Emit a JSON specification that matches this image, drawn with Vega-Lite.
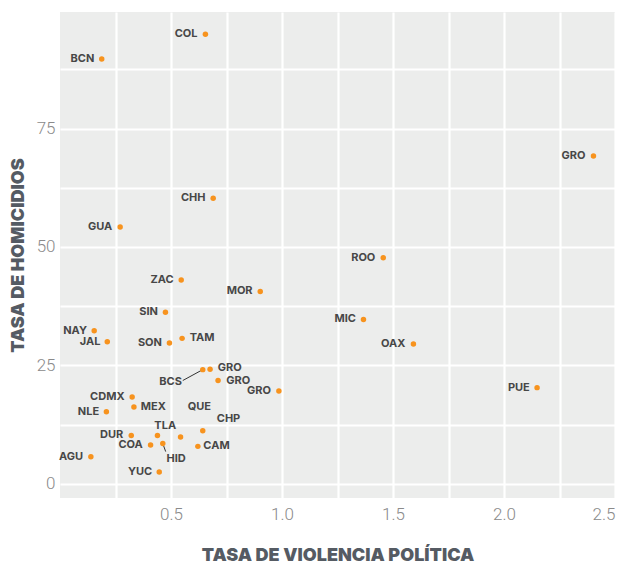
{
  "$schema": "https://vega.github.io/schema/vega-lite/v6.json",
  "width": 555,
  "height": 486,
  "autosize": {"type": "none"},
  "padding": {"left": 60, "top": 12, "right": 12, "bottom": 65},
  "background": "white",
  "config": {
    "view": {"fill": "#ecedec", "stroke": null},
    "axis": {
      "domain": false,
      "ticks": false,
      "grid": true,
      "gridColor": "white",
      "gridWidth": 2.2,
      "labelFont": "Roboto",
      "labelFontWeight": 300,
      "labelFontSize": 17,
      "labelColor": "#8a8a8a",
      "titleFont": "Inter",
      "titleFontWeight": 900,
      "titleFontSize": 18,
      "titleColor": "#555b63"
    }
  },
  "datasets": {
    "pts": [
      {"state": "COL", "x": 0.655, "y": 94.9, "lx": 0.568, "ly": 94.9},
      {"state": "BCN", "x": 0.188, "y": 89.7, "lx": 0.101, "ly": 89.7},
      {"state": "CHH", "x": 0.690, "y": 60.3, "lx": 0.600, "ly": 60.3},
      {"state": "GUA", "x": 0.271, "y": 54.2, "lx": 0.181, "ly": 54.2},
      {"state": "GRO", "x": 2.403, "y": 69.2, "lx": 2.313, "ly": 69.2},
      {"state": "ROO", "x": 1.456, "y": 47.7, "lx": 1.366, "ly": 47.7},
      {"state": "MIC", "x": 1.367, "y": 34.7, "lx": 1.285, "ly": 34.7},
      {"state": "OAX", "x": 1.592, "y": 29.5, "lx": 1.501, "ly": 29.5},
      {"state": "PUE", "x": 2.149, "y": 20.3, "lx": 2.067, "ly": 20.3},
      {"state": "ZAC", "x": 0.546, "y": 43.0, "lx": 0.460, "ly": 43.0},
      {"state": "MOR", "x": 0.902, "y": 40.6, "lx": 0.809, "ly": 40.6},
      {"state": "SIN", "x": 0.475, "y": 36.2, "lx": 0.399, "ly": 36.2},
      {"state": "NAY", "x": 0.154, "y": 32.3, "lx": 0.068, "ly": 32.3},
      {"state": "JAL", "x": 0.213, "y": 30.0, "lx": 0.136, "ly": 30.0},
      {"state": "SON", "x": 0.493, "y": 29.7, "lx": 0.405, "ly": 29.7},
      {"state": "TAM", "x": 0.550, "y": 30.7, "lx": 0.640, "ly": 30.7},
      {"state": "BCS", "x": 0.643, "y": 24.1, "lx": 0.498, "ly": 21.4},
      {"state": "GRO", "x": 0.676, "y": 24.2, "lx": 0.765, "ly": 24.4},
      {"state": "GRO", "x": 0.712, "y": 21.8, "lx": 0.803, "ly": 21.8},
      {"state": "GRO", "x": 0.986, "y": 19.6, "lx": 0.896, "ly": 19.6},
      {"state": "CDMX", "x": 0.325, "y": 18.3, "lx": 0.213, "ly": 18.4},
      {"state": "MEX", "x": 0.333, "y": 16.2, "lx": 0.420, "ly": 16.2},
      {"state": "NLE", "x": 0.209, "y": 15.2, "lx": 0.128, "ly": 15.2},
      {"state": "QUE", "x": 0.543, "y": 9.9, "lx": 0.628, "ly": 16.2},
      {"state": "CHP", "x": 0.643, "y": 11.2, "lx": 0.759, "ly": 13.7},
      {"state": "TLA", "x": 0.439, "y": 10.2, "lx": 0.474, "ly": 12.3},
      {"state": "DUR", "x": 0.321, "y": 10.2, "lx": 0.233, "ly": 10.3},
      {"state": "COA", "x": 0.408, "y": 8.2, "lx": 0.318, "ly": 8.2},
      {"state": "CAM", "x": 0.621, "y": 7.9, "lx": 0.705, "ly": 7.9},
      {"state": "HID", "x": 0.463, "y": 8.5, "lx": 0.523, "ly": 5.2},
      {"state": "AGU", "x": 0.139, "y": 5.7, "lx": 0.050, "ly": 5.7},
      {"state": "YUC", "x": 0.447, "y": 2.5, "lx": 0.361, "ly": 2.5}
    ],
    "leaders": [
      {"state": "BCS", "x": 0.643, "y": 24.1, "x2": 0.553, "y2": 21.8},
      {"state": "HID", "x": 0.463, "y": 8.5, "x2": 0.476, "y2": 6.8}
    ]
  },
  "layer": [
    {
      "data": {"name": "leaders"},
      "mark": {"type": "rule", "color": "#333333", "strokeWidth": 1},
      "encoding": {
        "x": {"field": "x", "type": "quantitative", "scale": {"domain": [0, 2.5], "nice": false, "zero": false},
          "axis": {"values": [0.25, 0.5, 0.75, 1, 1.25, 1.5, 1.75, 2, 2.25, 2.5], "labelExpr": "datum.value % 0.5 == 0 ? format(datum.value, '.1f') : ''", "labelPadding": 8, "title": "TASA DE VIOLENCIA POLÍTICA", "titlePadding": 24}},
        "y": {"field": "y", "type": "quantitative", "scale": {"domain": [-3, 99.6], "nice": false, "zero": false},
          "axis": {"values": [0, 12.5, 25, 37.5, 50, 62.5, 75, 87.5], "labelExpr": "datum.value % 25 == 0 ? format(datum.value, 'd') : ''", "labelPadding": 5, "title": "TASA DE HOMICIDIOS", "titlePadding": 9}},
        "x2": {"field": "x2"},
        "y2": {"field": "y2"}
      }
    },
    {
      "data": {"name": "pts"},
      "mark": {"type": "circle", "color": "#f7931e", "opacity": 1, "size": 30},
      "encoding": {
        "x": {"field": "x", "type": "quantitative"},
        "y": {"field": "y", "type": "quantitative"}
      }
    },
    {
      "data": {"name": "pts"},
      "mark": {"type": "text", "font": "Inter", "fontWeight": "bold", "fontSize": 11, "color": "#474747", "align": "center", "baseline": "middle"},
      "encoding": {
        "x": {"field": "lx", "type": "quantitative"},
        "y": {"field": "ly", "type": "quantitative"},
        "text": {"field": "state"}
      }
    }
  ]
}
